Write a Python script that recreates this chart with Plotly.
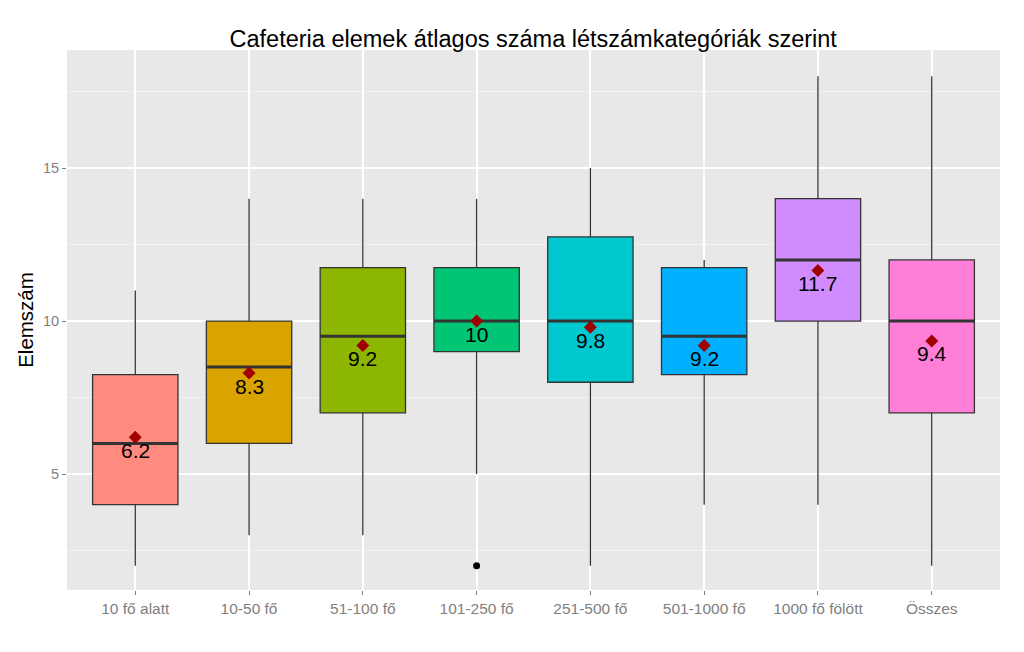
import plotly.graph_objects as go

categories = ["10 fő alatt", "10-50 fő", "51-100 fő", "101-250 fő", "251-500 fő",
              "501-1000 fő", "1000 fő fölött", "Összes"]
lower = [2, 3, 3, 5, 2, 4, 4, 2]
q1 = [4, 6, 7, 9, 8, 8.25, 10, 7]
median = [6, 8.5, 9.5, 10, 10, 9.5, 12, 10]
q3 = [8.25, 10, 11.75, 11.75, 12.75, 11.75, 14, 12]
upper = [11, 14, 14, 14, 15, 12, 18, 18]
means = [6.2, 8.3, 9.2, 10.0, 9.8, 9.2, 11.65, 9.35]
mean_labels = ["6.2", "8.3", "9.2", "10", "9.8", "9.2", "11.7", "9.4"]
outlier_cat = [3]
outlier_val = [2]
colors = ["#FF8B80", "#D9A300", "#8DB600", "#00C574", "#00C8CE", "#00B0FF",
          "#D08CFF", "#FF7FD8"]

xs = list(range(len(categories)))
fig = go.Figure()
bw = 0.75
for i, c in enumerate(categories):
    fig.add_trace(go.Box(
        x=[i], q1=[q1[i]], median=[median[i]], q3=[q3[i]],
        lowerfence=[lower[i]], upperfence=[upper[i]],
        fillcolor=colors[i], line=dict(color="#333333", width=1.3),
        whiskerwidth=0, width=bw, boxpoints=False, showlegend=False,
        hoverinfo="skip"))
    fig.add_trace(go.Scatter(
        x=[i - bw / 2, i + bw / 2], y=[median[i], median[i]], mode="lines",
        line=dict(color="#333333", width=3), showlegend=False, hoverinfo="skip"))

fig.add_trace(go.Scatter(
    x=outlier_cat, y=outlier_val, mode="markers",
    marker=dict(color="black", size=7), showlegend=False))
fig.add_trace(go.Scatter(
    x=xs, y=means, mode="markers",
    marker=dict(symbol="diamond", color="#A00000", size=10), showlegend=False))

for i in xs:
    fig.add_annotation(x=i, y=means[i], text=mean_labels[i], showarrow=False,
                       yshift=-13, font=dict(size=21, color="black",
                                             family="Liberation Sans"))

fig.update_layout(
    width=1024, height=652,
    margin=dict(l=67, r=24, t=50, b=62),
    paper_bgcolor="white", plot_bgcolor="#E8E8E8",
    font=dict(family="Liberation Sans", color="#7F7F7F", size=14),
    title=dict(text="Cafeteria elemek átlagos száma létszámkategóriák szerint",
               x=0.5207, xanchor="center", y=0.94, yanchor="middle",
               font=dict(size=23.5, color="black")),
    xaxis=dict(range=[-0.6, 7.6], tickmode="array", tickvals=xs, ticktext=categories,
               showgrid=True, gridcolor="white", gridwidth=1.5, zeroline=False,
               ticks="outside", ticklen=4, tickcolor="#7F7F7F",
               tickfont=dict(size=15.5, color="#7F7F7F")),
    yaxis=dict(range=[1.21, 18.86], tickvals=[5, 10, 15], showgrid=True,
               gridcolor="white", gridwidth=1.5, zeroline=False,
               ticks="outside", ticklen=4, tickcolor="#7F7F7F",
               tickfont=dict(size=14.5, color="#7F7F7F"),
               title=dict(text="Elemszám", font=dict(size=20.5, color="black"), standoff=3),
               minor=dict(tickvals=[2.5, 7.5, 12.5, 17.5], showgrid=True,
                          gridcolor="#F3F3F3", gridwidth=0.8, ticks="")),
)
fig.write_html("out.html")
